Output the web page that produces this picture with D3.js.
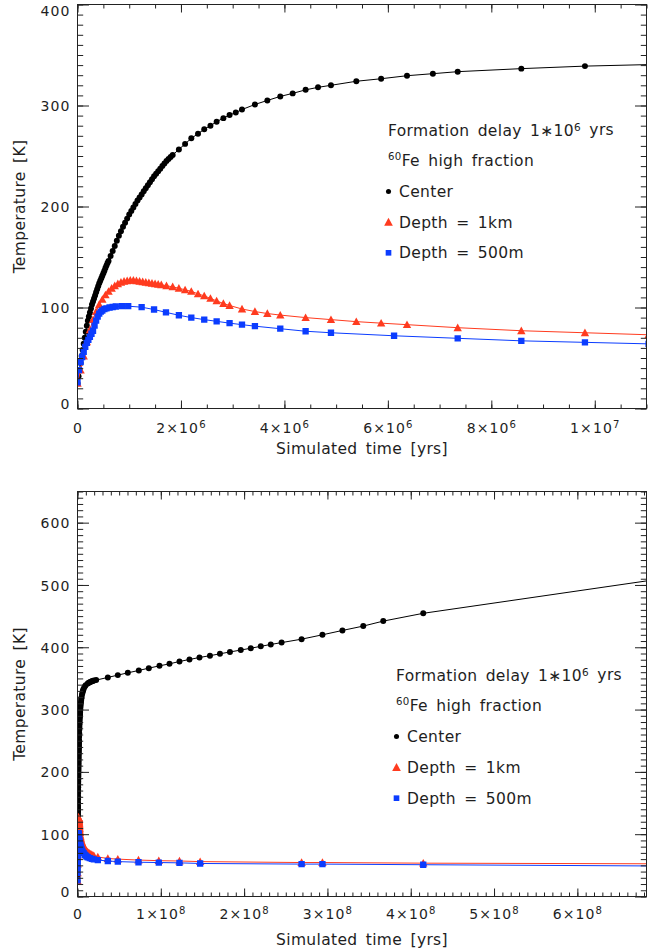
<!DOCTYPE html>
<html>
<head>
<meta charset="utf-8">
<script src="https://cdn.jsdelivr.net/npm/d3@7"></script>
<style>
  body { margin: 0; background: #fff; }
  svg { display: block; }
  text { font-family: "DejaVu Sans", sans-serif; fill: #1e1e1e; }
</style>
</head>
<body>
<svg id="chart" width="656" height="951"></svg>
<script>
// ---------- Upper panel: first 1.1e7 yr (time in units of 1e6 yr) ----------
const topCenterTime = [0.00,0.02,0.04,0.06,0.08,0.10,0.12,0.14,0.16,0.18,0.20,0.22,0.24,0.26,0.28,0.30,
  0.32,0.34,0.36,0.38,0.40,0.42,0.44,0.46,0.48,0.50,0.52,0.54,0.56,0.58,0.60,0.64,0.68,0.72,0.76,0.80,
  0.84,0.88,0.92,0.96,1.00,1.04,1.08,1.12,1.16,1.20,1.24,1.28,1.32,1.36,1.40,1.44,1.48,1.52,1.56,1.60,
  1.64,1.68,1.72,1.76,1.80,1.84,1.96,2.08,2.20,2.33,2.45,2.57,2.69,2.82,2.94,3.06,3.18,3.43,3.67,3.92,
  4.16,4.41,4.65,4.90,5.39,5.87,6.37,6.87,7.35,8.58,9.81,12.27];
const topCenterTemp = [25,32,38,45,52,58,64,70,76,82,87,91,95,99,103,106,
  109,112,115,118,121,124,126.5,129,131.5,134,136.5,139,141.5,144,146,151,156,161,166,171,
  175.5,180,184,188,192,195.5,199,202.5,206,209,212,215,218,221,224,227,230,232.5,235,237.5,
  240,242.5,245,247,249,251,256.5,262,267.5,272,276.5,280,284,287.5,290.5,293,296,301,305,309,
  312,315.5,318,320,324,326.5,329.5,331.5,333.5,336.5,339,342];

const topKmTime = [0.00,0.06,0.12,0.18,0.24,0.30,0.36,0.42,0.48,0.54,0.60,0.66,0.72,0.78,0.84,0.90,
  0.96,1.02,1.08,1.14,1.20,1.26,1.32,1.38,1.44,1.50,1.56,1.62,1.72,1.84,1.96,2.08,2.20,2.33,2.45,2.57,
  2.69,2.82,2.94,3.18,3.43,3.67,3.92,4.41,4.90,5.39,5.87,6.37,7.35,8.58,9.81,11.04];
const topKmTemp = [25,38,52,66,78,88,96,103,108,112.5,116,119,121.5,123.5,125,126,
  126.5,127,127,126.5,126,125.5,125,124.5,124,123.5,123,122.5,121.5,120.5,119,117.5,116,113.5,111.5,109,
  106.5,104,102,98.5,96,94,92.5,90,88,86,84.5,83,80,77,75,73];

const topHalfKmTime = [0.00,0.03,0.06,0.09,0.12,0.15,0.18,0.21,0.24,0.27,0.30,0.33,0.36,0.39,0.42,0.45,
  0.48,0.52,0.56,0.62,0.68,0.74,0.86,0.98,1.24,1.48,1.71,1.96,2.20,2.45,2.69,2.94,3.18,3.43,3.92,4.41,
  4.90,6.12,7.35,8.58,9.81,11.04];
const topHalfKmTemp = [26,38,46,51,56,61,65,68,71,74,77,82,87,91,94,96,
  97,98.5,99.2,100,100.5,101,101.3,101.3,100.3,98,95.2,92.3,90,88,86.3,84.5,83,81.5,79,76.5,
  75,72,69.5,67,65.5,64];

// ---------- Lower panel: full run (time in units of 1e8 yr) ----------
// The run's first outputs are the ones of the upper panel, re-expressed in 1e8 yr;
// the later outputs follow.
const lowCenterLateTime = [0.135,0.147,0.160,0.172,0.184,0.196,0.224,0.364,0.484,0.604,0.736,0.856,
  0.984,1.104,1.224,1.344,1.464,1.59,1.71,1.83,1.96,2.08,2.20,2.32,2.45,2.69,2.94,3.18,3.43,3.67,4.15,8.30];
const lowCenterLateTemp = [343,344,344.5,345.5,346,346.5,347.3,351.6,355.3,359,362.8,366.5,
  370.2,373.4,377.2,380.4,383.6,386.5,389.5,392.5,395.5,398.5,401.5,404.5,407.5,413,420,427,434,442,454.5,535];

const lowKmLateTime = [0.123,0.135,0.147,0.160,0.172,0.184,0.196,0.244,0.364,0.484,0.732,0.976,
  1.224,1.472,2.69,2.94,4.15,8.30];
const lowKmLateTemp = [71,70,69,68,67,66,65.5,63.5,61,60,58.5,57.5,
  57,56,54.5,54.5,53.5,52];

const lowHalfKmLateTime = [0.123,0.147,0.172,0.196,0.244,0.364,0.484,0.732,0.976,1.224,1.472,
  2.69,2.94,4.15,8.30];
const lowHalfKmLateTemp = [63,61.5,60.5,59.5,58.5,57,56,55,54.5,54,53,
  52,52,51,48];

const toLow = t => t / 100;   // 1e6 yr -> 1e8 yr
const lowCenterTime = topCenterTime.map(toLow).concat(lowCenterLateTime);
const lowCenterTemp = topCenterTemp.concat(lowCenterLateTemp);
const lowKmTime = topKmTime.map(toLow).concat(lowKmLateTime);
const lowKmTemp = topKmTemp.concat(lowKmLateTemp);
const lowHalfKmTime = topHalfKmTime.map(toLow).concat(lowHalfKmLateTime);
const lowHalfKmTemp = topHalfKmTemp.concat(lowHalfKmLateTemp);

// ---------- Axis ticks and legend text ----------
const topXMajor = [0, 2, 4, 6, 8, 10];          // x 1e6 yr
const topYMajor = [0, 100, 200, 300, 400];
const lowXMajor = [0, 1, 2, 3, 4, 5, 6];        // x 1e8 yr
const lowYMajor = [0, 100, 200, 300, 400, 500, 600];
const legendLines = ["Formation delay 1\u221710", "6", " yrs"];
const seriesNames = ["Center", "Depth = 1km", "Depth = 500m"];

const COLORS = { center: "#000000", km: "#ff3b1f", half: "#0b3cff" };

// IDL-style triangle marker
const triangleSym = {
  draw(ctx, size) {
    const h = Math.sqrt(size);
    ctx.moveTo(0, -h * 0.55);
    ctx.lineTo(h * 0.55, h * 0.45);
    ctx.lineTo(-h * 0.55, h * 0.45);
    ctx.closePath();
  }
};

const svg = d3.select("#chart");

function supLabel(sel, mantissa, exponent) {
  sel.text(null);
  sel.append("tspan").text(mantissa + "\u00d710");
  sel.append("tspan").attr("dy", "-0.45em").attr("font-size", "0.72em").text(exponent);
}

function drawPanel(p) {
  const x = d3.scaleLinear().domain(p.xDomain).range([p.left, p.right]);
  const y = d3.scaleLinear().domain(p.yDomain).range([p.bottom, p.top]);
  const g = svg.append("g");

  g.append("clipPath").attr("id", "clip-" + p.id)
    .append("rect")
    .attr("x", p.left).attr("y", p.top)
    .attr("width", p.right - p.left).attr("height", p.bottom - p.top);

  const plot = g.append("g").attr("clip-path", `url(#clip-${p.id})`);
  const line = d3.line().x(d => x(d[0])).y(d => y(d[1]));

  p.series.forEach(s => {
    const pts = s.time.map((t, i) => [t, s.temp[i]]);
    plot.append("path").datum(pts)
      .attr("d", line)
      .attr("fill", "none")
      .attr("stroke", s.color)
      .attr("stroke-width", 1);
    const sym = d3.symbol(s.symbol, s.size)();
    plot.append("g").selectAll("path").data(pts).join("path")
      .attr("transform", d => `translate(${x(d[0])},${y(d[1])})`)
      .attr("d", sym)
      .attr("fill", s.color);
  });

  const xMajorLen = 8, xMinorLen = 4, yMajorLen = 11.5, yMinorLen = 5.7;
  const xMinor = d3.range(p.xDomain[0], p.xDomain[1] + 1e-9, p.xMinorStep);
  const yMinor = d3.range(p.yDomain[0], p.yDomain[1] + 1e-9, p.yMinorStep);

  const axes = g.append("g").attr("class", "axes");
  const styleAxis = sel => {
    sel.select(".domain").remove();
    sel.selectAll(".tick line").attr("stroke", "#222").attr("stroke-width", 1);
  };

  // minor ticks on all four sides
  axes.append("g").attr("transform", `translate(0,${p.bottom})`)
    .call(d3.axisBottom(x).tickValues(xMinor).tickSize(-xMinorLen).tickFormat("")).call(styleAxis);
  axes.append("g").attr("transform", `translate(0,${p.top})`)
    .call(d3.axisTop(x).tickValues(xMinor).tickSize(-xMinorLen).tickFormat("")).call(styleAxis);
  axes.append("g").attr("transform", `translate(${p.left},0)`)
    .call(d3.axisLeft(y).tickValues(yMinor).tickSize(-yMinorLen).tickFormat("")).call(styleAxis);
  axes.append("g").attr("transform", `translate(${p.right},0)`)
    .call(d3.axisRight(y).tickValues(yMinor).tickSize(-yMinorLen).tickFormat("")).call(styleAxis);

  // major ticks
  const bx = axes.append("g").attr("transform", `translate(0,${p.bottom})`)
    .call(d3.axisBottom(x).tickValues(p.xMajor).tickSize(-xMajorLen)).call(styleAxis);
  axes.append("g").attr("transform", `translate(0,${p.top})`)
    .call(d3.axisTop(x).tickValues(p.xMajor).tickSize(-xMajorLen).tickFormat("")).call(styleAxis);
  const ly = axes.append("g").attr("transform", `translate(${p.left},0)`)
    .call(d3.axisLeft(y).tickValues(p.yMajor).tickSize(-yMajorLen).tickPadding(7)).call(styleAxis);
  axes.append("g").attr("transform", `translate(${p.right},0)`)
    .call(d3.axisRight(y).tickValues(p.yMajor).tickSize(-yMajorLen).tickFormat("")).call(styleAxis);

  // x tick labels: 0, then m×10^e
  bx.selectAll(".tick text")
    .attr("y", p.xLabelBaseline).attr("dy", 0)
    .attr("font-size", 14).attr("letter-spacing", 1.1)
    .attr("font-family", "DejaVu Sans").attr("fill", "#1e1e1e")
    .each(function (d) {
      const sel = d3.select(this);
      if (d === 0) { sel.text("0"); return; }
      const v = d * p.xUnit;
      const e = Math.floor(Math.log10(v) + 1e-9);
      const m = Math.round(v / Math.pow(10, e));
      supLabel(sel, m, e);
    });

  // y tick labels (end labels nudged inside the frame)
  ly.selectAll(".tick text")
    .attr("font-size", 14).attr("letter-spacing", 1.1)
    .attr("font-family", "DejaVu Sans").attr("fill", "#1e1e1e")
    .attr("dy", d => d === p.yDomain[0] ? "0.0em" : d === p.yDomain[1] ? "0.78em" : "0.36em");

  // frame
  g.append("rect")
    .attr("x", p.left).attr("y", p.top)
    .attr("width", p.right - p.left).attr("height", p.bottom - p.top)
    .attr("fill", "none").attr("stroke", "#222").attr("stroke-width", 1);

  // axis titles
  g.append("text")
    .attr("x", (p.left + p.right) / 2).attr("y", p.xTitleBaseline)
    .attr("text-anchor", "middle").attr("font-size", 15.5)
    .attr("letter-spacing", 0.35).attr("word-spacing", 3)
    .text("Simulated time [yrs]");
  g.append("text")
    .attr("transform", `translate(25,${(p.top + p.bottom) / 2}) rotate(-90)`)
    .attr("text-anchor", "middle").attr("font-size", 15.5)
    .attr("letter-spacing", 0.35).attr("word-spacing", 3)
    .text("Temperature [K]");

  // legend block
  const lg = g.append("g").attr("font-size", 15.5)
    .attr("letter-spacing", 0.35).attr("word-spacing", 3);
  const L = p.legend;
  const t1 = lg.append("text").attr("x", L.x).attr("y", L.y0 + 5.5);
  t1.append("tspan").text(legendLines[0]);
  t1.append("tspan").attr("dy", "-0.45em").attr("font-size", "0.68em").text(legendLines[1]);
  t1.append("tspan").attr("dy", "0.3em").text(legendLines[2]);

  const t2 = lg.append("text").attr("x", L.x).attr("y", L.y0 + L.step + 5.5);
  t2.append("tspan").attr("font-size", "0.66em").attr("dy", "-0.62em").text("60");
  t2.append("tspan").attr("dy", "0.41em").text("Fe high fraction");

  p.series.forEach((s, i) => {
    const cy = L.y0 + L.step * (i + 2);
    lg.append("path")
      .attr("transform", `translate(${L.x + 0.5},${cy})`)
      .attr("d", d3.symbol(s.symbol, s.legendSize)())
      .attr("fill", s.color);
    lg.append("text").attr("x", L.x + 11).attr("y", cy + 5.5).text(seriesNames[i]);
  });
}

const seriesStyle = (tC, vC, tK, vK, tH, vH) => [
  { time: tC, temp: vC, color: COLORS.center, symbol: d3.symbolCircle, size: 28, legendSize: 20 },
  { time: tK, temp: vK, color: COLORS.km, symbol: triangleSym, size: 58, legendSize: 62 },
  { time: tH, temp: vH, color: COLORS.half, symbol: d3.symbolSquare, size: 40, legendSize: 32 }
];

drawPanel({
  id: "early", left: 77.5, right: 646.5, top: 4.5, bottom: 408.5,
  xDomain: [0, 11], yDomain: [0, 400], xUnit: 1e6,
  xMajor: topXMajor, yMajor: topYMajor, xMinorStep: 0.5, yMinorStep: 10,
  xLabelBaseline: 24.5, xTitleBaseline: 454,
  legend: { x: 388, y0: 130, step: 30.7 },
  series: seriesStyle(topCenterTime, topCenterTemp, topKmTime, topKmTemp, topHalfKmTime, topHalfKmTemp)
});

drawPanel({
  id: "full", left: 77.5, right: 646.5, top: 491.5, bottom: 896.5,
  xDomain: [0, 6.83], yDomain: [0, 650], xUnit: 1e8,
  xMajor: lowXMajor, yMajor: lowYMajor, xMinorStep: 0.1, yMinorStep: 10,
  xLabelBaseline: 22, xTitleBaseline: 945,
  legend: { x: 396, y0: 675, step: 30.8 },
  series: seriesStyle(lowCenterTime, lowCenterTemp, lowKmTime, lowKmTemp, lowHalfKmTime, lowHalfKmTemp)
});
</script>
</body>
</html>
